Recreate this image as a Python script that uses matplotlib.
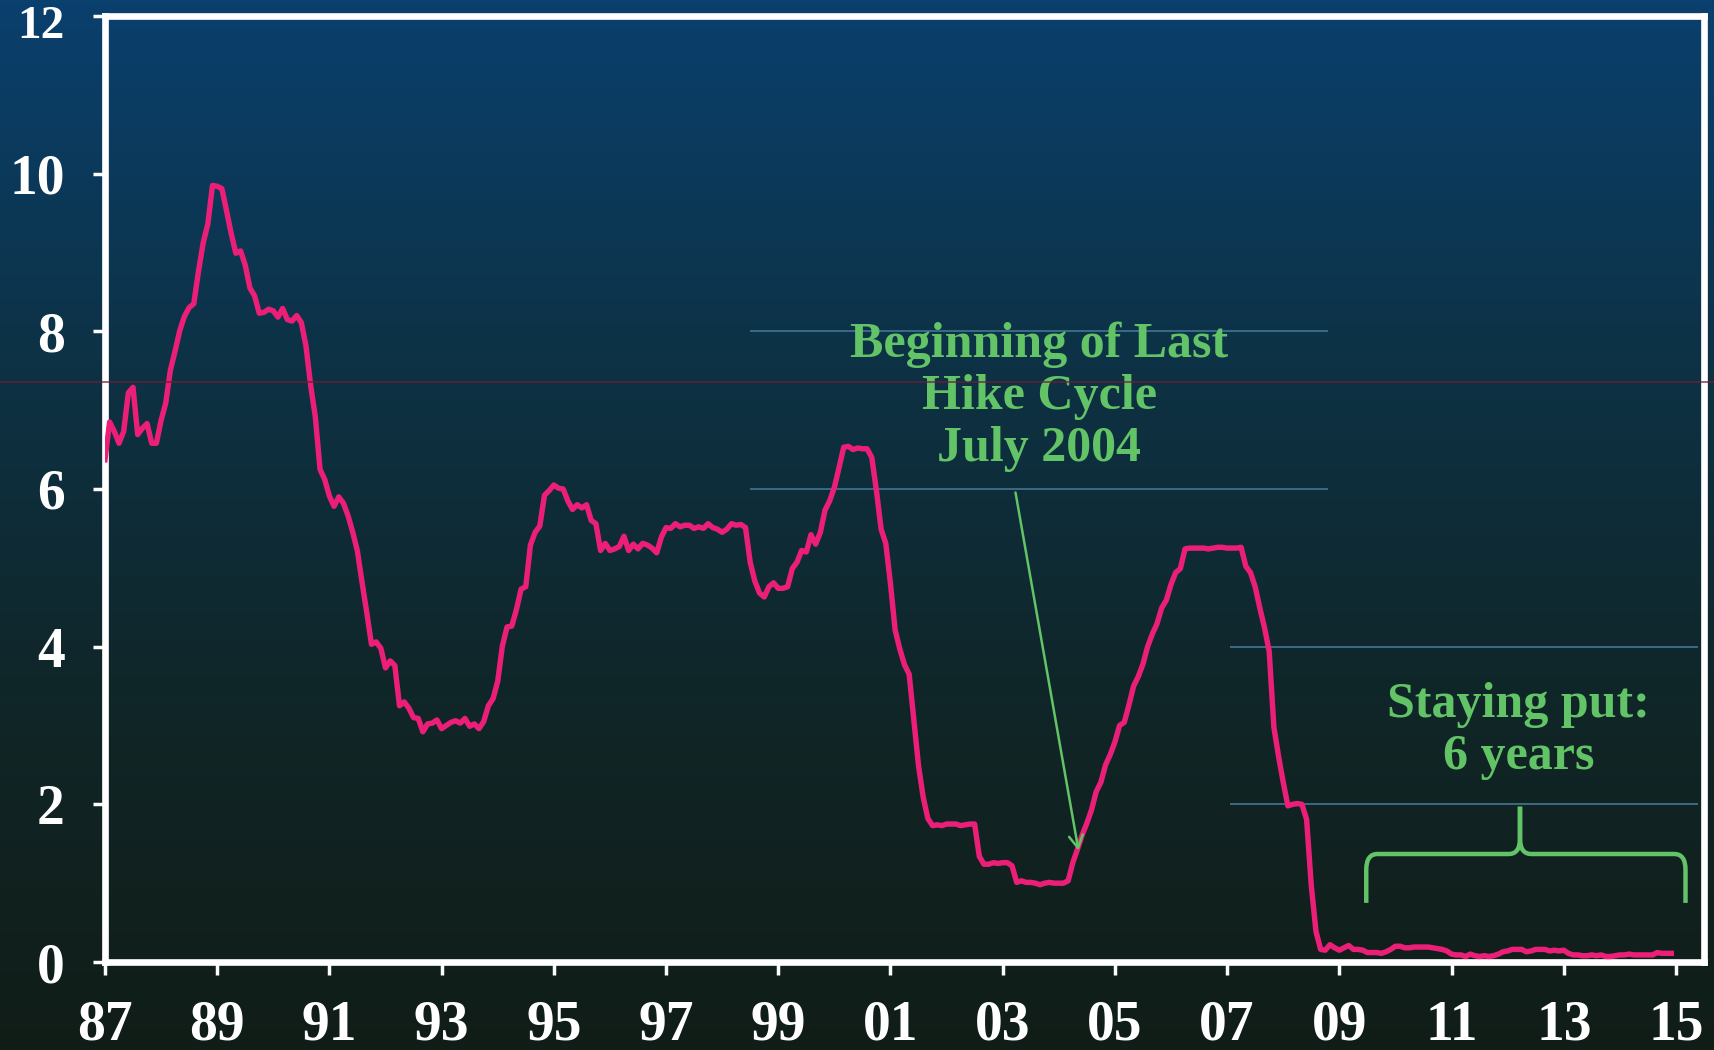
import numpy as np
import matplotlib
matplotlib.use("Agg")
import matplotlib.pyplot as plt
from matplotlib.path import Path
from matplotlib.patches import PathPatch, FancyArrowPatch
from matplotlib.lines import Line2D
from matplotlib.transforms import ScaledTranslation

# Fed funds rate, monthly readings (first point sits on the "87" tick)
rate_87_94 = [
    6.37, 6.85, 6.73, 6.58, 6.73, 7.22, 7.29, 6.69, 6.77,
    6.83, 6.58, 6.58, 6.87, 7.09, 7.51, 7.75, 8.01, 8.19, 8.30, 8.35, 8.76,
    9.12, 9.36, 9.85, 9.84, 9.81, 9.53, 9.24, 8.99, 9.02, 8.84, 8.55, 8.45,
    8.23, 8.24, 8.28, 8.26, 8.18, 8.29, 8.15, 8.13, 8.20, 8.11, 7.81, 7.31,
    6.91, 6.25, 6.12, 5.91, 5.78, 5.90, 5.82, 5.66, 5.45, 5.21, 4.81, 4.43,
    4.03, 4.06, 3.98, 3.73, 3.82, 3.76, 3.25, 3.30, 3.22, 3.10, 3.09, 2.92,
    3.02, 3.03, 3.07, 2.96, 3.00, 3.04, 3.06, 3.03, 3.09, 2.99, 3.02, 2.96,
    3.05, 3.25, 3.34, 3.56, 4.01, 4.25, 4.26, 4.47, 4.73, 4.76, 5.29, 5.45,
]
rate_95_02 = [
    5.53, 5.92, 5.98, 6.05, 6.01, 6.00, 5.85, 5.74, 5.80, 5.76, 5.80, 5.60,
    5.56, 5.22, 5.31, 5.22, 5.24, 5.27, 5.40, 5.22, 5.30, 5.24, 5.31, 5.29,
    5.25, 5.19, 5.39, 5.51, 5.50, 5.56, 5.52, 5.54, 5.54, 5.50, 5.52, 5.50,
    5.56, 5.51, 5.49, 5.45, 5.49, 5.56, 5.54, 5.55, 5.51, 5.07, 4.83, 4.68,
    4.63, 4.76, 4.81, 4.74, 4.74, 4.76, 4.99, 5.07, 5.22, 5.20, 5.42, 5.30,
    5.45, 5.73, 5.85, 6.02, 6.27, 6.53, 6.54, 6.50, 6.52, 6.51, 6.51, 6.40,
    5.98, 5.49, 5.31, 4.80, 4.21, 3.97, 3.77, 3.65, 3.07, 2.49, 2.09, 1.82,
    1.73, 1.74, 1.73, 1.75, 1.75, 1.75, 1.73, 1.74, 1.75, 1.75, 1.34, 1.24,
]
rate_03_15 = [
    1.24, 1.26, 1.25, 1.26, 1.26, 1.22, 1.01, 1.03, 1.01, 1.01, 1.00, 0.98,
    1.00, 1.01, 1.00, 1.00, 1.00, 1.03, 1.26, 1.43, 1.61, 1.76, 1.93, 2.16,
    2.28, 2.50, 2.63, 2.79, 3.00, 3.04, 3.26, 3.50, 3.62, 3.78, 4.00, 4.16,
    4.29, 4.49, 4.59, 4.79, 4.94, 4.99, 5.24, 5.25, 5.25, 5.25, 5.25, 5.24,
    5.25, 5.26, 5.26, 5.25, 5.25, 5.25, 5.26, 5.02, 4.94, 4.76, 4.49, 4.24,
    3.94, 2.98, 2.61, 2.28, 1.98, 2.00, 2.01, 2.00, 1.81, 0.97, 0.39, 0.16,
    0.15, 0.22, 0.18, 0.15, 0.18, 0.21, 0.16, 0.16, 0.15, 0.12, 0.12, 0.12,
    0.11, 0.13, 0.16, 0.20, 0.20, 0.18, 0.18, 0.19, 0.19, 0.19, 0.19, 0.18,
    0.17, 0.16, 0.14, 0.10, 0.09, 0.09, 0.07, 0.10, 0.08, 0.07, 0.08, 0.07,
    0.08, 0.10, 0.13, 0.14, 0.16, 0.16, 0.16, 0.13, 0.14, 0.16, 0.16, 0.16,
    0.14, 0.15, 0.14, 0.15, 0.11, 0.09, 0.09, 0.08, 0.08, 0.09, 0.08, 0.09,
    0.07, 0.07, 0.08, 0.09, 0.09, 0.10, 0.09, 0.09, 0.09, 0.09, 0.09, 0.12,
    0.11, 0.11, 0.11,
]
tick_years = list(range(1987, 2016, 2))
tick_labels = ["87", "89", "91", "93", "95", "97", "99", "01", "03",
               "05", "07", "09", "11", "13", "15"]
y_ticks = [0, 2, 4, 6, 8, 10, 12]

rate = rate_87_94 + rate_95_02 + rate_03_15
years = 1987 + np.arange(len(rate)) / 12.0

PINK = "#ec1f78"
GREEN = "#62c466"
SERIF = "Liberation Serif"

fig = plt.figure(figsize=(17.15, 10.5), dpi=100)

# background gradient over the whole slide
bg = fig.add_axes([0, 0, 1, 1], zorder=-10)
stops = np.array([[10, 64, 110], [13, 50, 70], [16, 38, 40], [17, 29, 23]]) / 255.0
t = np.linspace(0, 1, 256)
grad = np.stack([np.interp(t, np.linspace(0, 1, len(stops)), stops[:, c]) for c in range(3)], axis=1)
bg.imshow(grad[:, None, :], aspect="auto", extent=[0, 1, 0, 1])
bg.set_axis_off()

# faint red scan line across the slide
fig.add_artist(Line2D([0, 1], [0.6365, 0.6365], color="#6a1d3a", lw=1.2, alpha=0.8))

ax = fig.add_axes([0.0612, 0.0838, 0.9324, 0.901])
ax.set_facecolor("none")

# partial faint guide lines left over on the slide
ax.hlines([8, 6], 1998.5, 2008.8, color="#3f6f8c", lw=1.3)
ax.hlines([4, 2], 2007.05, 2015.4, color="#3f6f8c", lw=1.3)

ax.plot(years, rate, color=PINK, lw=3.9, solid_joinstyle="round", zorder=5)

ax.set_xlim(1987, 2015.5)
ax.set_ylim(0, 12)
ax.set_xticks(tick_years)
ax.set_xticklabels(tick_labels)
ax.set_yticks(y_ticks)
for s in ax.spines.values():
    s.set_color("white")
    s.set_linewidth(4.8)
ax.tick_params(colors="white", width=2.5, length=9, direction="out")
ax.tick_params(axis="x", pad=18)
ax.tick_params(axis="y", pad=20)
for lab in ax.get_xticklabels() + ax.get_yticklabels():
    lab.set_fontfamily(SERIF)
    lab.set_fontweight("bold")
    lab.set_fontsize(40)
    lab.set_color("white")
# the top label would run off the slide: a bit smaller and nudged down
top_lab = ax.get_yticklabels()[-1]
top_lab.set_fontsize(34)
top_lab.set_transform(top_lab.get_transform() + ScaledTranslation(0, -6 / 100, fig.dpi_scale_trans))

# annotation: start of last hike cycle
ax.text(2003.65, 7.17, "Beginning of Last\nHike Cycle\nJuly 2004", ha="center", va="center",
        color=GREEN, fontsize=36, fontweight="bold", fontfamily=SERIF, linespacing=1.17, zorder=6)
ax.add_patch(FancyArrowPatch((2003.22, 5.99), (2004.36, 1.38), arrowstyle="->,head_length=9,head_width=5",
                             color=GREEN, lw=1.8, zorder=6))

# annotation: staying put + brace
ax.text(2012.19, 2.93, "Staying put:\n6 years", ha="center", va="center",
        color=GREEN, fontsize=36, fontweight="bold", fontfamily=SERIF, linespacing=1.17, zorder=6)
x0, xm, x1 = 2009.48, 2012.22, 2015.17
yb, yh, ytip = 0.75, 1.37, 1.97
rx, ry = 0.2, 0.2
verts = [(x0, yb), (x0, yh - ry), (x0, yh), (x0 + rx, yh), (xm - rx, yh), (xm, yh), (xm, yh + ry), (xm, ytip),
         (x1, yb), (x1, yh - ry), (x1, yh), (x1 - rx, yh), (xm + rx, yh), (xm, yh), (xm, yh + ry), (xm, ytip)]
codes = [Path.MOVETO, Path.LINETO, Path.CURVE3, Path.CURVE3, Path.LINETO, Path.CURVE3, Path.CURVE3, Path.LINETO,
         Path.MOVETO, Path.LINETO, Path.CURVE3, Path.CURVE3, Path.LINETO, Path.CURVE3, Path.CURVE3, Path.LINETO]
ax.add_patch(PathPatch(Path(verts, codes), facecolor="none", edgecolor=GREEN, lw=3.2, zorder=6))

fig.savefig("out.png", dpi=100)
